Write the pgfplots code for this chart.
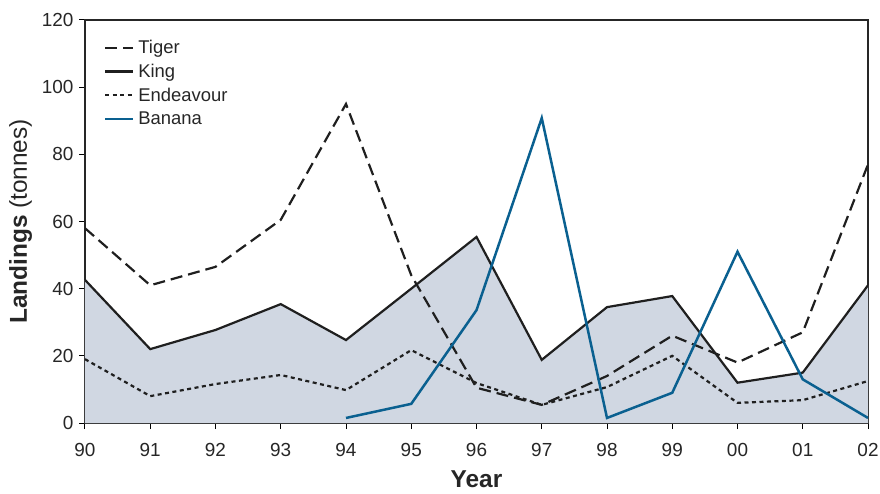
\documentclass[border=0pt]{standalone}
\usepackage{fontspec}
\setmainfont{Liberation Sans}
\usepackage{pgfplots}
\pgfplotsset{compat=1.18}
\definecolor{areafill}{RGB}{208,215,226}
\definecolor{banana}{RGB}{10,96,144}
\begin{document}
\begin{tikzpicture}
\path[use as bounding box] (-85bp,-71bp) rectangle (795bp,423bp);
\begin{axis}[
  scale only axis, width=783bp, height=403bp,
  xmin=0, xmax=12, ymin=0, ymax=120,
  xtick={0,...,12},
  xticklabels={90,91,92,93,94,95,96,97,98,99,00,01,02},
  ytick={0,20,...,120},
  tick align=outside, tick pos=left,
  major tick length=6bp,
  every tick/.style={black, line width=1bp},
  axis line style={line width=1.6bp, black!85},
  tick label style={font=\fontsize{19}{21}\selectfont, text=black!85},
  xticklabel style={yshift=-11bp},
  yticklabel style={xshift=-2bp},
  /pgf/number format/assume math mode=true,
  xlabel={\textbf{Year}},
  ylabel={\textbf{Landings} (tonnes)},
  label style={font=\fontsize{24.5}{27}\selectfont, text=black!85},
  xlabel style={yshift=-9bp, inner ysep=1bp},
  ylabel style={yshift=3bp},
  legend style={draw=none, fill=none, at={(0.02,0.96)}, anchor=north west,
    font=\fontsize{18.5}{21}\selectfont, row sep=5bp, text=black!85,
    nodes={inner xsep=4bp}},
  legend cell align=left,
  legend image code/.code={\draw[#1] (0bp,0bp) -- (28bp,0bp);},
]
\addplot[fill=areafill, draw=none, forget plot] coordinates {
(0,42.6) (1,22) (2,27.7) (3,35.4) (4,24.7) (5,40) (6,55.4) (7,18.8) (8,34.5) (9,37.8) (10,12) (11,15) (12,41)
} \closedcycle;
\addplot[black!88, line width=2.2bp, dash pattern=on 12bp off 6bp] coordinates {
(0,58) (1,41) (2,46.5) (3,60.5) (4,95) (5,44) (6,10.5) (7,5.4) (8,14) (9,26) (10,18) (11,27) (12,77)
};
\addlegendentry{Tiger}
\addplot[black!88, line width=2.2bp] coordinates {
(0,42.6) (1,22) (2,27.7) (3,35.4) (4,24.7) (5,40) (6,55.4) (7,18.8) (8,34.5) (9,37.8) (10,12) (11,15) (12,41)
};
\addlegendentry{King}
\addplot[black!88, line width=2.2bp, dash pattern=on 4bp off 3.5bp] coordinates {
(0,19) (1,8) (2,11.6) (3,14.3) (4,9.8) (5,21.7) (6,11.9) (7,5.4) (8,10.7) (9,20) (10,6) (11,6.8) (12,12.5)
};
\addlegendentry{Endeavour}
\addplot[banana, line width=2.5bp] coordinates {
(4,1.5) (5,5.7) (6,33.6) (7,90.8) (8,1.5) (9,9) (10,51) (11,13) (12,1.5)
};
\addlegendentry{Banana}
\end{axis}
\end{tikzpicture}
\end{document}
